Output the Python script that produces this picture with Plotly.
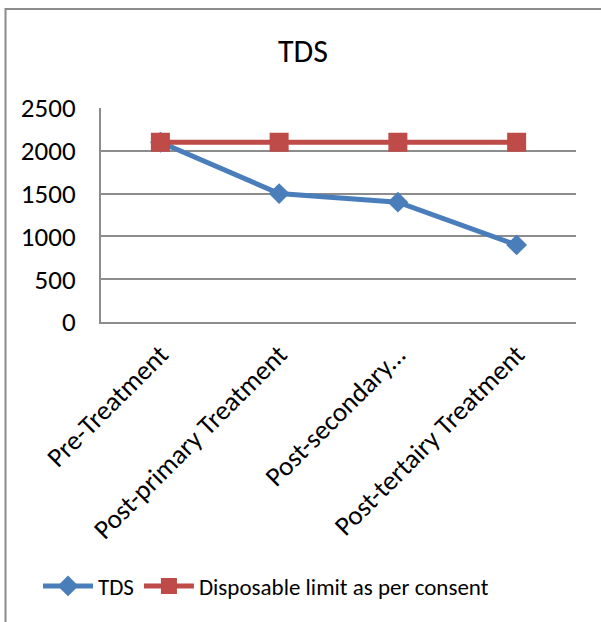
import plotly.graph_objects as go

# Treatment stages and measured values
categories = ["Pre-Treatment", "Post-primary Treatment", "Post-secondary...", "Post-tertairy Treatment"]
tds_values = [2100, 1500, 1400, 900]
limit_values = [2100, 2100, 2100, 2100]
y_ticks = [0, 500, 1000, 1500, 2000, 2500]

FONT = "Carlito, Lato, sans-serif"
W, H = 601, 622
L, R, T, B = 101, 25, 108, 300

fig = go.Figure()
fig.add_trace(go.Scatter(
    x=categories, y=tds_values, name="TDS", mode="lines+markers",
    line=dict(color="#4A7EBB", width=5),
    marker=dict(symbol="diamond", size=16, color="#4A7EBB"),
))
fig.add_trace(go.Scatter(
    x=categories, y=limit_values, name="Disposable limit as per consent", mode="lines+markers",
    line=dict(color="#BE4B48", width=5),
    marker=dict(symbol="square", size=19, color="#BE4B48"),
))

# outer chart frame, in paper units relative to the plot area
pw, ph = W - L - R, H - T - B
def px_x(x):
    return (x - L) / pw
def px_y(y):
    return (H - B - y) / ph

fig.add_shape(type="rect", xref="paper", yref="paper",
              x0=px_x(5.5), x1=px_x(640), y0=px_y(660), y1=px_y(9),
              line=dict(color="#8c8c8c", width=2), layer="below")

fig.update_layout(
    width=W, height=H,
    margin=dict(l=L, r=R, t=T, b=B),
    paper_bgcolor="white", plot_bgcolor="white",
    font=dict(family=FONT, size=24, color="black"),
    title=dict(text="TDS", x=303 / W, xanchor="center", y=1 - 51 / H, yanchor="middle",
               font=dict(family=FONT, size=32, color="black")),
    showlegend=True,
    legend=dict(orientation="h", x=px_x(38), xanchor="left", y=px_y(586), yanchor="middle",
                font=dict(family=FONT, size=23), itemwidth=50, tracegroupgap=0),
    xaxis=dict(type="category", range=[-0.5, 3.5], tickangle=-45, showgrid=False,
               showline=True, linecolor="#8c8c8c", linewidth=2,
               ticks="outside", ticklen=4, tickcolor="rgba(0,0,0,0)",
               tickfont=dict(family=FONT, size=27)),
    yaxis=dict(range=[0, 2500], tickvals=y_ticks, showgrid=True, gridcolor="#8c8c8c", gridwidth=1.5,
               showline=True, linecolor="#8c8c8c", linewidth=2, zeroline=False,
               ticks="outside", ticklen=18, tickcolor="rgba(0,0,0,0)",
               tickfont=dict(family=FONT, size=27)),
)

fig.write_html("out.html")
